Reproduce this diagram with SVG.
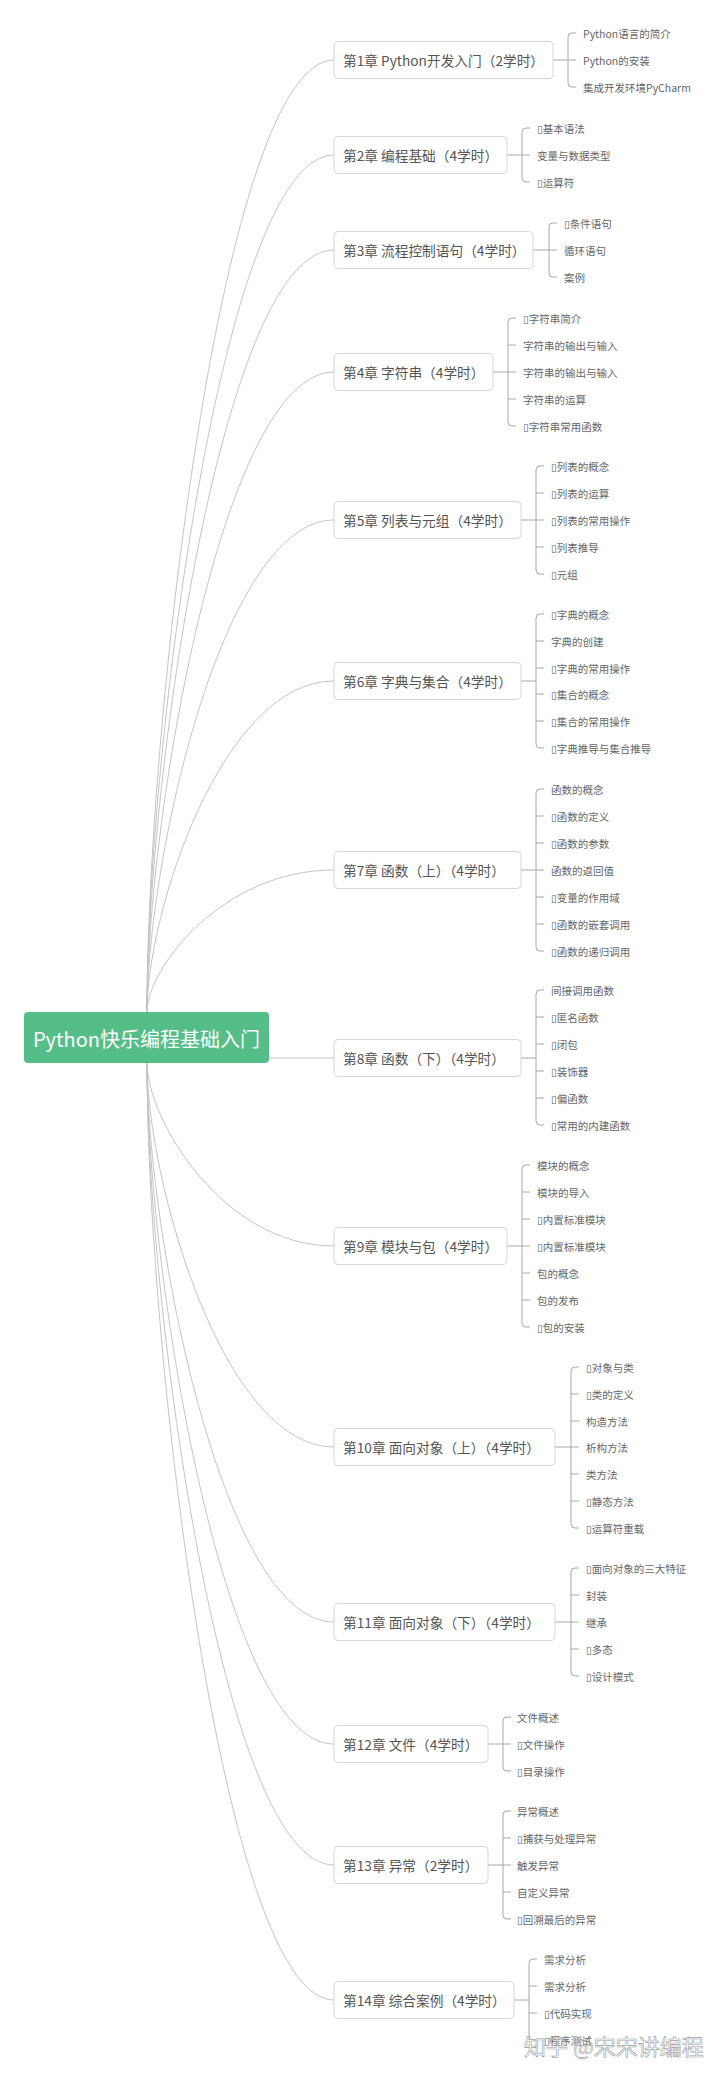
<svg xmlns="http://www.w3.org/2000/svg" width="720" height="2075" viewBox="0 0 720 2075">
<style>
text{font-family:"Noto Sans CJK SC","Noto Sans","DejaVu Sans",sans-serif}
.box{fill:#fff;stroke:#d6d6d6;stroke-width:1}
.ct{font-size:13.7px;fill:#555;dominant-baseline:central}
.it{font-size:10.5px;fill:#666;dominant-baseline:central}
.ln{fill:none;stroke:#c4c4c4;stroke-width:1}
.br{fill:none;stroke:#a8a8a8;stroke-width:1}
</style>
<rect width="720" height="2075" fill="#fff"/>
<g id="connectors">
<path class="ln" d="M147,1012 C147,726 222,60 334,60"/>
<path class="ln" d="M147,1012 C147,755 222,155 334,155"/>
<path class="ln" d="M147,1012 C147,783 222,250 334,250"/>
<path class="ln" d="M147,1012 C147,820 222,372 334,372"/>
<path class="ln" d="M147,1012 C147,864 222,520 334,520"/>
<path class="ln" d="M147,1012 C147,913 222,681 334,681"/>
<path class="ln" d="M147,1012 C147,969 222,870 334,870"/>
<path class="ln" d="M269,1058 H334"/>
<path class="ln" d="M147,1063 C147,1118 222,1246 334,1246"/>
<path class="ln" d="M147,1063 C147,1178 222,1447 334,1447"/>
<path class="ln" d="M147,1063 C147,1231 222,1622 334,1622"/>
<path class="ln" d="M147,1063 C147,1267 222,1744 334,1744"/>
<path class="ln" d="M147,1063 C147,1304 222,1865 334,1865"/>
<path class="ln" d="M147,1063 C147,1344 222,2000 334,2000"/>
<path class="br" d="M553,60 H576 M576,33 H572 Q568,33 568,37 V83 Q568,87 572,87 H576"/>
<path class="br" d="M507,155 H530 M530,128 H526 Q522,128 522,132 V178 Q522,182 526,182 H530"/>
<path class="br" d="M533,250 H557 M557,223 H553 Q549,223 549,227 V273 Q549,277 553,277 H557"/>
<path class="br" d="M493,372 H516 M516,318 H512 Q508,318 508,322 V422 Q508,426 512,426 H516 M508,345 H516 M508,399 H516"/>
<path class="br" d="M521,520 H544 M544,466 H540 Q536,466 536,470 V570 Q536,574 540,574 H544 M536,493 H544 M536,547 H544"/>
<path class="br" d="M521,681 H536 M544,614 H540 Q536,614 536,618 V744 Q536,748 540,748 H544 M536,641 H544 M536,668 H544 M536,694 H544 M536,721 H544"/>
<path class="br" d="M521,870 H544 M544,789 H540 Q536,789 536,793 V947 Q536,951 540,951 H544 M536,816 H544 M536,843 H544 M536,897 H544 M536,924 H544"/>
<path class="br" d="M521,1058 H536 M544,990 H540 Q536,990 536,994 V1121 Q536,1125 540,1125 H544 M536,1017 H544 M536,1044 H544 M536,1071 H544 M536,1098 H544"/>
<path class="br" d="M507,1246 H530 M530,1165 H526 Q522,1165 522,1169 V1323 Q522,1327 526,1327 H530 M522,1192 H530 M522,1219 H530 M522,1273 H530 M522,1300 H530"/>
<path class="br" d="M555,1447 H579 M579,1367 H575 Q571,1367 571,1371 V1524 Q571,1528 575,1528 H579 M571,1394 H579 M571,1421 H579 M571,1474 H579 M571,1501 H579"/>
<path class="br" d="M555,1622 H579 M579,1568 H575 Q571,1568 571,1572 V1672 Q571,1676 575,1676 H579 M571,1595 H579 M571,1649 H579"/>
<path class="br" d="M488,1744 H511 M511,1717 H507 Q503,1717 503,1721 V1767 Q503,1771 507,1771 H511"/>
<path class="br" d="M488,1865 H511 M511,1811 H507 Q503,1811 503,1815 V1915 Q503,1919 507,1919 H511 M503,1838 H511 M503,1892 H511"/>
<path class="br" d="M514,2000 H529 M537,1959 H533 Q529,1959 529,1963 V2036 Q529,2040 533,2040 H537 M529,1986 H537 M529,2013 H537"/>
</g>
<g id="root">
<rect x="24" y="1012" width="245" height="51" rx="4" fill="#55bd87"/>
<text x="146.5" y="1038" font-size="20" fill="#fff" text-anchor="middle" dominant-baseline="central">Python快乐编程基础入门</text>
</g>
<g id="ch1"><rect class="box" x="334" y="41.5" width="219" height="37" rx="4"/><text class="ct" x="343" y="60">第1章 Python开发入门（2学时）</text>
<text class="it" x="583" y="33">Python语言的简介</text><text class="it" x="583" y="60">Python的安装</text><text class="it" x="583" y="87">集成开发环境PyCharm</text></g>
<g id="ch2"><rect class="box" x="334" y="136.5" width="173" height="37" rx="4"/><text class="ct" x="343" y="155">第2章 编程基础（4学时）</text>
<text class="it" x="537" y="128">▯基本语法</text><text class="it" x="537" y="155">变量与数据类型</text><text class="it" x="537" y="182">▯运算符</text></g>
<g id="ch3"><rect class="box" x="334" y="231.5" width="199" height="37" rx="4"/><text class="ct" x="343" y="250">第3章 流程控制语句（4学时）</text>
<text class="it" x="564" y="223">▯条件语句</text><text class="it" x="564" y="250">循环语句</text><text class="it" x="564" y="277">案例</text></g>
<g id="ch4"><rect class="box" x="334" y="353.5" width="159" height="37" rx="4"/><text class="ct" x="343" y="372">第4章 字符串（4学时）</text>
<text class="it" x="523" y="318">▯字符串简介</text><text class="it" x="523" y="345">字符串的输出与输入</text><text class="it" x="523" y="372">字符串的输出与输入</text><text class="it" x="523" y="399">字符串的运算</text><text class="it" x="523" y="426">▯字符串常用函数</text></g>
<g id="ch5"><rect class="box" x="334" y="501.5" width="187" height="37" rx="4"/><text class="ct" x="343" y="520">第5章 列表与元组（4学时）</text>
<text class="it" x="551" y="466">▯列表的概念</text><text class="it" x="551" y="493">▯列表的运算</text><text class="it" x="551" y="520">▯列表的常用操作</text><text class="it" x="551" y="547">▯列表推导</text><text class="it" x="551" y="574">▯元组</text></g>
<g id="ch6"><rect class="box" x="334" y="662.5" width="187" height="37" rx="4"/><text class="ct" x="343" y="681">第6章 字典与集合（4学时）</text>
<text class="it" x="551" y="614">▯字典的概念</text><text class="it" x="551" y="641">字典的创建</text><text class="it" x="551" y="668">▯字典的常用操作</text><text class="it" x="551" y="694">▯集合的概念</text><text class="it" x="551" y="721">▯集合的常用操作</text><text class="it" x="551" y="748">▯字典推导与集合推导</text></g>
<g id="ch7"><rect class="box" x="334" y="851.5" width="187" height="37" rx="4"/><text class="ct" x="343" y="870">第7章 函数（上）（4学时）</text>
<text class="it" x="551" y="789">函数的概念</text><text class="it" x="551" y="816">▯函数的定义</text><text class="it" x="551" y="843">▯函数的参数</text><text class="it" x="551" y="870">函数的返回值</text><text class="it" x="551" y="897">▯变量的作用域</text><text class="it" x="551" y="924">▯函数的嵌套调用</text><text class="it" x="551" y="951">▯函数的递归调用</text></g>
<g id="ch8"><rect class="box" x="334" y="1039.5" width="187" height="37" rx="4"/><text class="ct" x="343" y="1058">第8章 函数（下）（4学时）</text>
<text class="it" x="551" y="990">间接调用函数</text><text class="it" x="551" y="1017">▯匿名函数</text><text class="it" x="551" y="1044">▯闭包</text><text class="it" x="551" y="1071">▯装饰器</text><text class="it" x="551" y="1098">▯偏函数</text><text class="it" x="551" y="1125">▯常用的内建函数</text></g>
<g id="ch9"><rect class="box" x="334" y="1227.5" width="173" height="37" rx="4"/><text class="ct" x="343" y="1246">第9章 模块与包（4学时）</text>
<text class="it" x="537" y="1165">模块的概念</text><text class="it" x="537" y="1192">模块的导入</text><text class="it" x="537" y="1219">▯内置标准模块</text><text class="it" x="537" y="1246">▯内置标准模块</text><text class="it" x="537" y="1273">包的概念</text><text class="it" x="537" y="1300">包的发布</text><text class="it" x="537" y="1327">▯包的安装</text></g>
<g id="ch10"><rect class="box" x="334" y="1428.5" width="221" height="37" rx="4"/><text class="ct" x="343" y="1447">第10章 面向对象（上）（4学时）</text>
<text class="it" x="586" y="1367">▯对象与类</text><text class="it" x="586" y="1394">▯类的定义</text><text class="it" x="586" y="1421">构造方法</text><text class="it" x="586" y="1447">析构方法</text><text class="it" x="586" y="1474">类方法</text><text class="it" x="586" y="1501">▯静态方法</text><text class="it" x="586" y="1528">▯运算符重载</text></g>
<g id="ch11"><rect class="box" x="334" y="1603.5" width="221" height="37" rx="4"/><text class="ct" x="343" y="1622">第11章 面向对象（下）（4学时）</text>
<text class="it" x="586" y="1568">▯面向对象的三大特征</text><text class="it" x="586" y="1595">封装</text><text class="it" x="586" y="1622">继承</text><text class="it" x="586" y="1649">▯多态</text><text class="it" x="586" y="1676">▯设计模式</text></g>
<g id="ch12"><rect class="box" x="334" y="1725.5" width="154" height="37" rx="4"/><text class="ct" x="343" y="1744">第12章 文件（4学时）</text>
<text class="it" x="517" y="1717">文件概述</text><text class="it" x="517" y="1744">▯文件操作</text><text class="it" x="517" y="1771">▯目录操作</text></g>
<g id="ch13"><rect class="box" x="334" y="1846.5" width="154" height="37" rx="4"/><text class="ct" x="343" y="1865">第13章 异常（2学时）</text>
<text class="it" x="517" y="1811">异常概述</text><text class="it" x="517" y="1838">▯捕获与处理异常</text><text class="it" x="517" y="1865">触发异常</text><text class="it" x="517" y="1892">自定义异常</text><text class="it" x="517" y="1919">▯回溯最后的异常</text></g>
<g id="ch14"><rect class="box" x="334" y="1981.5" width="180" height="37" rx="4"/><text class="ct" x="343" y="2000">第14章 综合案例（4学时）</text>
<text class="it" x="544" y="1959">需求分析</text><text class="it" x="544" y="1986">需求分析</text><text class="it" x="544" y="2013">▯代码实现</text><text class="it" x="544" y="2040">▯程序测试</text></g>
<text x="524" y="2045" font-size="22" fill="#fff" fill-opacity="0.6" stroke="#9a9a9a" stroke-width="0.6" dominant-baseline="central">知乎 @宋宋讲编程</text>
</svg>
